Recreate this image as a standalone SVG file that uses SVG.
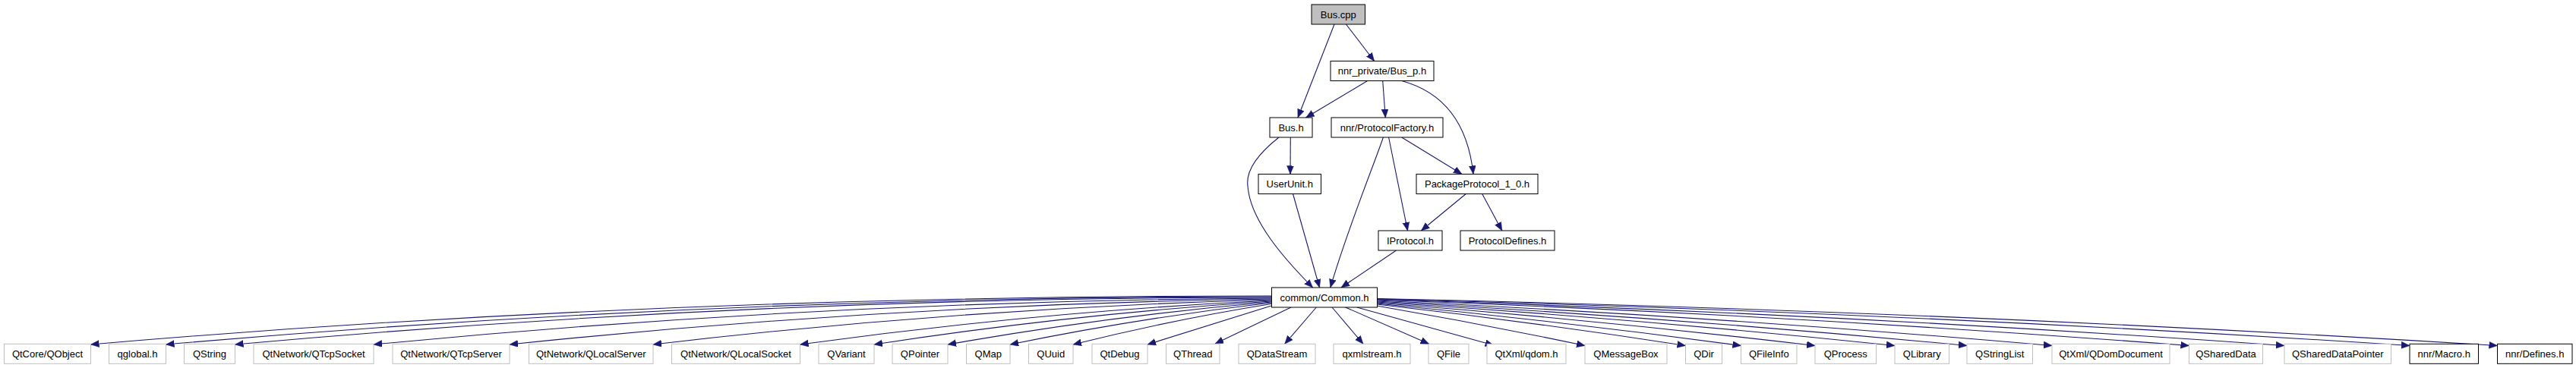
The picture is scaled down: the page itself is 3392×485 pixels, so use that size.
<svg xmlns="http://www.w3.org/2000/svg" width="3392" height="485" viewBox="0 0 3392 485">
<style>
text{font-family:"Liberation Sans",Arial,Helvetica,sans-serif;font-size:13px;text-anchor:middle;fill:#000}
.n rect{fill:#fff;stroke:#000;stroke-width:1}
.g rect{fill:#fff;stroke:#bfbfbf;stroke-width:1}
.r rect{fill:#bfbfbf;stroke:#000;stroke-width:1}
#edges path{fill:none;stroke:#191970;stroke-width:1.1;marker-end:url(#a)}
</style>
<defs>
<marker id="a" markerUnits="userSpaceOnUse" markerWidth="12" markerHeight="10" refX="11" refY="4.5" orient="auto">
<path d="M0,0 L11,4.5 L0,9 z" fill="#191970" stroke="#191970" stroke-width="0.5"/>
</marker>
</defs>
<rect width="3392" height="485" fill="#fff"/>
<g id="edges">
<path d="M1757,32 L1709,155"/>
<path d="M1772.5,32 L1809.6,80.5"/>
<path d="M1800.7,106.5 L1719.6,155"/>
<path d="M1820.7,106.5 L1824.3,155"/>
<path d="M1845.7,106.5 C1895,120 1932,155 1940,229.5"/>
<path d="M1699.3,181 L1699,229.5"/>
<path d="M1684,181 C1660,200 1640,222 1643,245 C1646,290 1690,340 1728.6,379"/>
<path d="M1845.7,181 L1925,229.5"/>
<path d="M1828.6,181 L1853.5,304"/>
<path d="M1821.4,181 C1810,215 1775,300 1751.8,379"/>
<path d="M1930.3,255.5 L1871.4,304"/>
<path d="M1951.7,255.5 L1977.8,304"/>
<path d="M1702.5,255.5 L1737.5,379"/>
<path d="M1838.5,330 L1766,379"/>
<path d="M1674,390 C1155.8,390 637.7,409.3 119.5,454"/>
<path d="M1674,391 C1188.8,391 703.7,411.2 218.5,454"/>
<path d="M1674,392 C1219.2,392 764.3,412.9 309.5,454"/>
<path d="M1674,393 C1280,395.6 886,415.9 492,454"/>
<path d="M1674,394 C1339.7,398.9 1005.3,419 671,454"/>
<path d="M1674,395 C1402.7,402.5 1131.3,422.1 860,454"/>
<path d="M1674,396 C1467.2,406 1260.3,425.4 1053.5,454"/>
<path d="M1674,397 C1499.7,408.2 1325.3,427.2 1151,454"/>
<path d="M1674,398 C1532,410.3 1390,428.9 1248,454"/>
<path d="M1674,399 C1559.3,412.2 1444.7,430.5 1330,454"/>
<path d="M1674,400.5 C1587,414.4 1500,432.3 1413,454"/>
<path d="M1674,403 L1511,454"/>
<path d="M1700,405 L1600,453"/>
<path d="M1733.3,405 L1691.7,453.3"/>
<path d="M1754,405 L1795,453.3"/>
<path d="M1771.7,405 L1881.7,453.3"/>
<path d="M1786.7,405 L1966.7,455"/>
<path d="M1813,403 C1904.3,418.7 1995.7,436.2 2087,455.5"/>
<path d="M1813,401 C1948.5,416.4 2084,434.6 2219.5,455.5"/>
<path d="M1813,400 C1972.8,415.3 2132.7,433.8 2292.5,455.5"/>
<path d="M1813,399 C2005.3,414 2197.7,432.8 2390,455.5"/>
<path d="M1813,398 C2040.3,412.6 2267.7,431.8 2495,455.5"/>
<path d="M1813,397 C2072,411.3 2331,430.8 2590,455.5"/>
<path d="M1813,396 C2109.3,409.9 2405.7,429.8 2702,455.5"/>
<path d="M1813,395 C2169.5,408 2526,428.2 2882.5,455.5"/>
<path d="M1813,394.5 C2211.3,406.8 2609.7,427.2 3008,455.5"/>
<path d="M1813,394 C2266.3,405.4 2719.7,425.9 3173,455.5"/>
<path d="M1813,393.5 C2304.8,404.3 2796.7,425 3288.5,455.5"/>
</g>
<g id="n_bus_cpp" class="r"><rect x="1727" y="6" width="70.5" height="26"/><text x="1762.25" y="23.5">Bus.cpp</text></g>
<g id="n_bus_p_h" class="n"><rect x="1752" y="80.5" width="136" height="26"/><text x="1820" y="98">nnr_private/Bus_p.h</text></g>
<g id="n_bus_h" class="n"><rect x="1672" y="155" width="56" height="26"/><text x="1700" y="172.5">Bus.h</text></g>
<g id="n_protocolfactory" class="n"><rect x="1753" y="155" width="147" height="26"/><text x="1826.5" y="172.5">nnr/ProtocolFactory.h</text></g>
<g id="n_userunit" class="n"><rect x="1657" y="229.5" width="82.5" height="26"/><text x="1698.25" y="247">UserUnit.h</text></g>
<g id="n_packageprotocol" class="n"><rect x="1865" y="229.5" width="160" height="26"/><text x="1945" y="247">PackageProtocol_1_0.h</text></g>
<g id="n_iprotocol" class="n"><rect x="1815" y="304" width="84" height="26"/><text x="1857" y="321.5">IProtocol.h</text></g>
<g id="n_protocoldefines" class="n"><rect x="1923" y="304" width="124" height="26"/><text x="1985" y="321.5">ProtocolDefines.h</text></g>
<g id="n_common" class="n"><rect x="1674.5" y="379" width="139" height="26"/><text x="1744" y="396.5">common/Common.h</text></g>
<g id="n_qobject" class="g"><rect x="5.5" y="453.3" width="114" height="26"/><text x="62.5" y="470.8">QtCore/QObject</text></g>
<g id="n_qglobal" class="g"><rect x="143.5" y="453.3" width="75" height="26"/><text x="181" y="470.8">qglobal.h</text></g>
<g id="n_qstring" class="g"><rect x="242.5" y="453.3" width="67" height="26"/><text x="276" y="470.8">QString</text></g>
<g id="n_qtcpsocket" class="g"><rect x="334" y="453.3" width="158" height="26"/><text x="413" y="470.8">QtNetwork/QTcpSocket</text></g>
<g id="n_qtcpserver" class="g"><rect x="517" y="453.3" width="154" height="26"/><text x="594" y="470.8">QtNetwork/QTcpServer</text></g>
<g id="n_qlocalserver" class="g"><rect x="696.5" y="453.3" width="163.5" height="26"/><text x="778.25" y="470.8">QtNetwork/QLocalServer</text></g>
<g id="n_qlocalsocket" class="g"><rect x="884.5" y="453.3" width="169" height="26"/><text x="969" y="470.8">QtNetwork/QLocalSocket</text></g>
<g id="n_qvariant" class="g"><rect x="1078" y="453.3" width="73" height="26"/><text x="1114.5" y="470.8">QVariant</text></g>
<g id="n_qpointer" class="g"><rect x="1175" y="453.3" width="73" height="26"/><text x="1211.5" y="470.8">QPointer</text></g>
<g id="n_qmap" class="g"><rect x="1272.5" y="453.3" width="57.5" height="26"/><text x="1301.25" y="470.8">QMap</text></g>
<g id="n_quuid" class="g"><rect x="1354.5" y="453.3" width="58.5" height="26"/><text x="1383.75" y="470.8">QUuid</text></g>
<g id="n_qtdebug" class="g"><rect x="1438" y="453.3" width="73" height="26"/><text x="1474.5" y="470.8">QtDebug</text></g>
<g id="n_qthread" class="g"><rect x="1535.5" y="453.3" width="70.5" height="26"/><text x="1570.75" y="470.8">QThread</text></g>
<g id="n_qdatastream" class="g"><rect x="1631" y="453.3" width="101" height="26"/><text x="1681.5" y="470.8">QDataStream</text></g>
<g id="n_qxmlstream" class="g"><rect x="1756" y="453.3" width="101" height="26"/><text x="1806.5" y="470.8">qxmlstream.h</text></g>
<g id="n_qfile" class="g"><rect x="1881" y="453.3" width="53" height="26"/><text x="1907.5" y="470.8">QFile</text></g>
<g id="n_qdom" class="g"><rect x="1958" y="453.3" width="104" height="26"/><text x="2010" y="470.8">QtXml/qdom.h</text></g>
<g id="n_qmessagebox" class="g"><rect x="2087" y="453.3" width="108" height="26"/><text x="2141" y="470.8">QMessageBox</text></g>
<g id="n_qdir" class="g"><rect x="2219.5" y="453.3" width="48" height="26"/><text x="2243.5" y="470.8">QDir</text></g>
<g id="n_qfileinfo" class="g"><rect x="2292.5" y="453.3" width="73.5" height="26"/><text x="2329.25" y="470.8">QFileInfo</text></g>
<g id="n_qprocess" class="g"><rect x="2390" y="453.3" width="80.5" height="26"/><text x="2430.25" y="470.8">QProcess</text></g>
<g id="n_qlibrary" class="g"><rect x="2495" y="453.3" width="71.5" height="26"/><text x="2530.75" y="470.8">QLibrary</text></g>
<g id="n_qstringlist" class="g"><rect x="2590" y="453.3" width="86.5" height="26"/><text x="2633.25" y="470.8">QStringList</text></g>
<g id="n_qdomdocument" class="g"><rect x="2702" y="453.3" width="155" height="26"/><text x="2779.5" y="470.8">QtXml/QDomDocument</text></g>
<g id="n_qshareddata" class="g"><rect x="2882.5" y="453.3" width="97" height="26"/><text x="2931" y="470.8">QSharedData</text></g>
<g id="n_qshareddatapointer" class="g"><rect x="3008" y="453.3" width="140.5" height="26"/><text x="3078.25" y="470.8">QSharedDataPointer</text></g>
<g id="n_macro" class="n"><rect x="3173" y="453.3" width="90.5" height="26"/><text x="3218.25" y="470.8">nnr/Macro.h</text></g>
<g id="n_defines" class="n"><rect x="3288.5" y="453.3" width="98.5" height="26"/><text x="3337.75" y="470.8">nnr/Defines.h</text></g>
</svg>
